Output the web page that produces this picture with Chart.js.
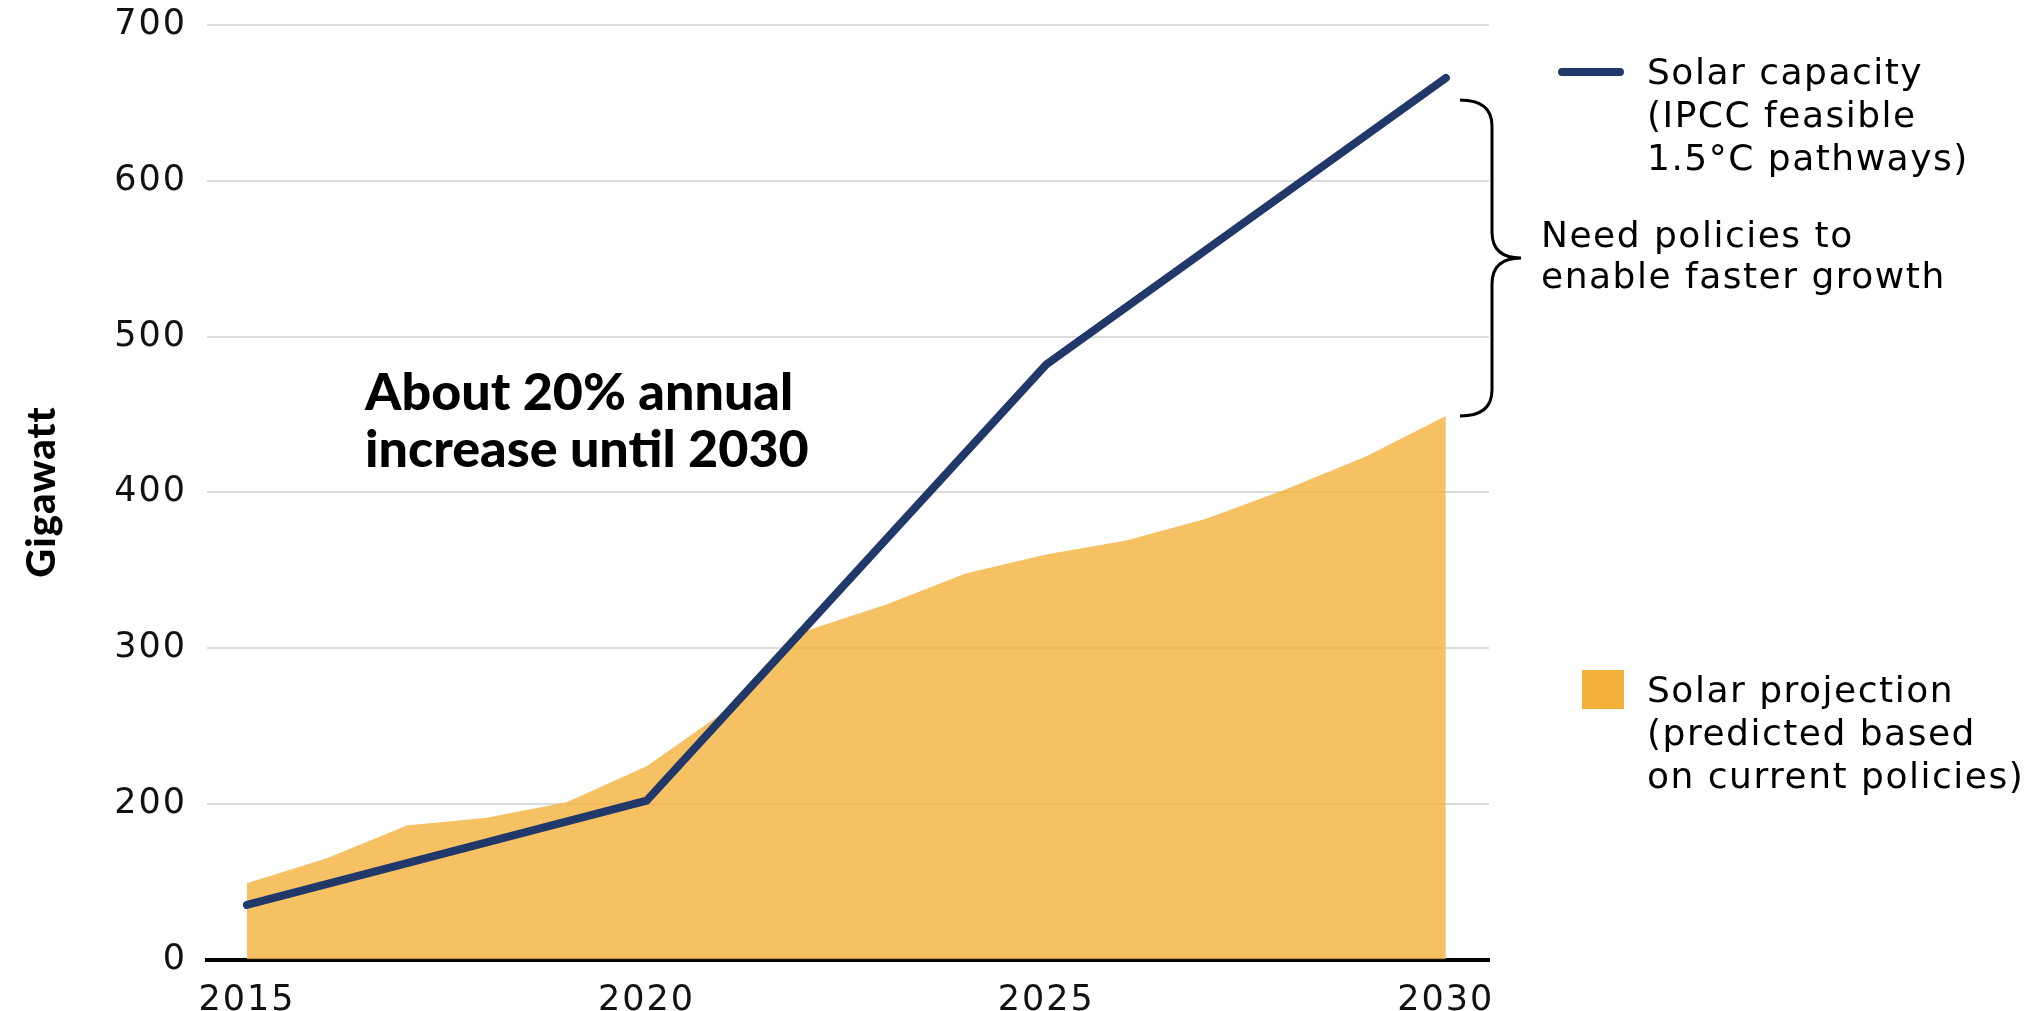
<!DOCTYPE html>
<html>
<head>
<meta charset="utf-8">
<script src="https://cdn.jsdelivr.net/npm/chart.js@4/dist/chart.umd.min.js"></script>
<style>
  html, body { margin: 0; padding: 0; background: #fff; }
  #wrap { width: 2033px; height: 1011px; }
</style>
</head>
<body>
<div id="wrap"><canvas id="solarChart" width="2033" height="1011"></canvas></div>
<script>
// years on the x axis and the projected capacity for each one
const years = [2015, 2016, 2017, 2018, 2019, 2020, 2021, 2022, 2023, 2024, 2025, 2026, 2027, 2028, 2029, 2030];
const projection = [149, 165, 186, 191, 201, 224, 260, 311, 328, 348, 360, 369, 383, 402, 423, 449];

// IPCC pathway, given at five-year steps
const capacityYears = [2015, 2020, 2025, 2030];
const capacity = [135, 202, 482, 666];

// axis ticks (the baseline of the value axis carries the "0" label)
const xTicks = [2015, 2020, 2025, 2030];
const yTicks = [100, 200, 300, 400, 500, 600, 700];
const yTickLabels = ["0", "200", "300", "400", "500", "600", "700"];

const NAVY = "#21386b";
const GOLD = "#f3b13b";
const TEXT_FONT = "'DejaVu Sans', sans-serif";

// wider tracking for every label the chart draws itself
const spacing = {
    id: "spacing",
    beforeDraw(chart) { chart.ctx.letterSpacing = "2px"; },
    afterDraw(chart) { chart.ctx.letterSpacing = "0px"; }
};

// ================= OVERLAY: annotation, brace, legend =================

const overlay = {
    id: "overlay",
    afterDraw(chart) {
        const ctx = chart.ctx;
        const y = chart.scales.y;

        ctx.save();
        ctx.fillStyle = "#000";
        ctx.textBaseline = "alphabetic";
        ctx.textAlign = "left";

        // axis title
        ctx.save();
        ctx.translate(55, 492);
        ctx.rotate(-Math.PI / 2);
        ctx.textAlign = "center";
        ctx.font = "900 40px Lato, sans-serif";
        ctx.letterSpacing = "1px";
        ctx.fillText("Gigawatt", 0, 0);
        ctx.restore();

        // growth note
        ctx.letterSpacing = "0px";
        ctx.font = "900 52px Lato, sans-serif";
        ctx.fillText("About 20% annual", 365, 410);
        ctx.fillText("increase until 2030", 365, 467);

        // brace spanning the gap between the two series in 2030
        const top = y.getPixelForValue(capacity[capacity.length - 1]) + 22;
        const bot = y.getPixelForValue(projection[projection.length - 1]);
        const mid = (top + bot) / 2;
        const xa = 1460, xb = 1492, xt = 1521, r = 26;

        ctx.strokeStyle = "#000";
        ctx.lineWidth = 3;
        ctx.beginPath();
        ctx.moveTo(xa, top);
        ctx.quadraticCurveTo(xb, top, xb, top + r);
        ctx.lineTo(xb, mid - r);
        ctx.quadraticCurveTo(xb, mid, xt, mid);
        ctx.moveTo(xt, mid);
        ctx.quadraticCurveTo(xb, mid, xb, mid + r);
        ctx.lineTo(xb, bot - r);
        ctx.quadraticCurveTo(xb, bot, xa, bot);
        ctx.stroke();

        ctx.font = "36px " + TEXT_FONT;
        ctx.letterSpacing = "1.5px";
        ctx.fillText("Need policies to", 1541, 247);
        ctx.fillText("enable faster growth", 1541, 288);

        // legend: line sample
        ctx.strokeStyle = NAVY;
        ctx.lineWidth = 8;
        ctx.lineCap = "round";
        ctx.beginPath();
        ctx.moveTo(1562, 72);
        ctx.lineTo(1620, 72);
        ctx.stroke();

        ctx.fillText("Solar capacity", 1647, 84);
        ctx.fillText("(IPCC feasible", 1647, 127);
        ctx.fillText("1.5°C pathways)", 1647, 170);

        // legend: area swatch
        ctx.fillStyle = GOLD;
        ctx.fillRect(1582, 670, 42, 39);
        ctx.fillStyle = "#000";
        ctx.fillText("Solar projection", 1647, 702);
        ctx.fillText("(predicted based", 1647, 745);
        ctx.fillText("on current policies)", 1647, 788);

        ctx.restore();
    }
};

// ================= CHART =================

new Chart(document.getElementById("solarChart"), {
    type: "line",
    data: {
        datasets: [
            {
                label: "Solar capacity (IPCC feasible 1.5°C pathways)",
                data: capacityYears.map((yr, i) => ({ x: yr, y: capacity[i] })),
                borderColor: NAVY,
                borderWidth: 8,
                borderCapStyle: "round",
                pointRadius: 0,
                fill: false,
                tension: 0
            },
            {
                label: "Solar projection (predicted based on current policies)",
                data: years.map((yr, i) => ({ x: yr, y: projection[i] })),
                backgroundColor: "rgba(243, 177, 59, 0.8)",
                borderWidth: 0,
                pointRadius: 0,
                fill: "start",
                tension: 0
            }
        ]
    },
    options: {
        responsive: false,
        devicePixelRatio: 1,
        animation: false,
        layout: { padding: { left: 0, top: 25, right: 544, bottom: 0 } },
        plugins: {
            legend: { display: false },
            tooltip: { enabled: false }
        },
        scales: {
            x: {
                type: "linear",
                min: 2014.5,
                max: 2030.54,
                afterBuildTicks: (s) => { s.ticks = xTicks.map(v => ({ value: v })); },
                afterFit: (s) => { s.height = 51.5; },
                grid: { display: false },
                border: { display: true, color: "#000", width: 4 },
                ticks: {
                    padding: 12,
                    color: "#111",
                    font: { family: TEXT_FONT, size: 35 },
                    callback: (v) => String(v)
                }
            },
            y: {
                min: 100,
                max: 700,
                afterBuildTicks: (s) => { s.ticks = yTicks.map(v => ({ value: v })); },
                afterFit: (s) => {
                    s.width = 207;
                    s.paddingTop = 0;
                    s.paddingBottom = 0;
                },
                grid: { color: "#dcdcdc", lineWidth: 2, drawTicks: false },
                border: { display: false },
                ticks: {
                    padding: 20,
                    color: "#111",
                    font: { family: TEXT_FONT, size: 35 },
                    callback: (v) => yTickLabels[yTicks.indexOf(v)]
                }
            }
        }
    },
    plugins: [spacing, overlay]
});
</script>
</body>
</html>
